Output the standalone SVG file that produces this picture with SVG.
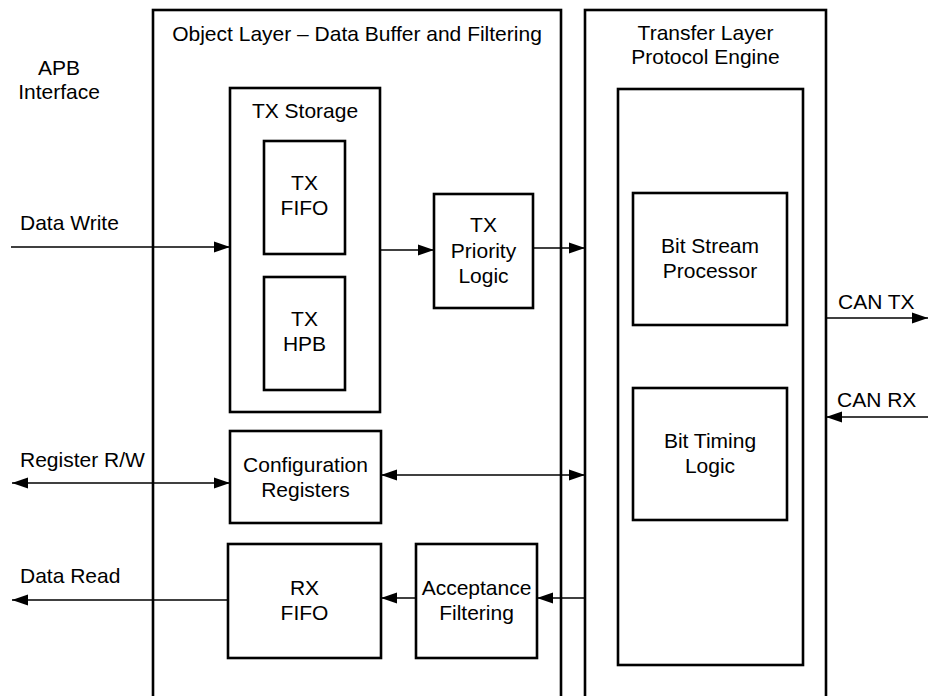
<svg xmlns="http://www.w3.org/2000/svg" width="928" height="696" viewBox="0 0 928 696">
<style>
.box{fill:none;stroke:#000;stroke-width:2.6}
.t{font-family:"Liberation Sans",Arial,sans-serif;font-size:21px;fill:#000}
.m{text-anchor:middle}
.c{fill:none;stroke:#000;stroke-width:1.3}
</style>
<defs>
<marker id="ah" markerUnits="userSpaceOnUse" markerWidth="17" markerHeight="12" refX="16" refY="6" orient="auto-start-reverse">
<path d="M0,0.5 L16,6 L0,11.5 z" fill="#000"/>
</marker>
</defs>
<rect width="928" height="696" fill="#fff"/>

<g id="apb-label">
<text class="t m" x="59" y="75">APB</text>
<text class="t m" x="59" y="99">Interface</text>
</g>

<g id="object-layer">
<rect class="box" x="153" y="10" width="408" height="720"/>
<text class="t m" x="357" y="41">Object Layer – Data Buffer and Filtering</text>
</g>

<g id="tx-storage">
<rect class="box" x="230" y="88" width="150" height="324"/>
<text class="t m" x="305" y="118">TX Storage</text>
</g>

<g id="tx-fifo">
<rect class="box" x="264" y="141" width="81" height="113"/>
<text class="t m" x="304.5" y="190">TX</text>
<text class="t m" x="304.5" y="215">FIFO</text>
</g>

<g id="tx-hpb">
<rect class="box" x="264" y="277" width="81" height="113"/>
<text class="t m" x="304.5" y="326">TX</text>
<text class="t m" x="304.5" y="351">HPB</text>
</g>

<g id="tx-priority">
<rect class="box" x="434" y="194" width="99" height="114"/>
<text class="t m" x="483.5" y="232">TX</text>
<text class="t m" x="483.5" y="258">Priority</text>
<text class="t m" x="483.5" y="283">Logic</text>
</g>

<g id="config-registers">
<rect class="box" x="230" y="431" width="151" height="92"/>
<text class="t m" x="305.5" y="472">Configuration</text>
<text class="t m" x="305.5" y="497">Registers</text>
</g>

<g id="rx-fifo">
<rect class="box" x="228" y="544" width="153" height="114"/>
<text class="t m" x="304.5" y="595">RX</text>
<text class="t m" x="304.5" y="620">FIFO</text>
</g>

<g id="acceptance-filtering">
<rect class="box" x="416" y="544" width="121" height="114"/>
<text class="t m" x="476.5" y="595">Acceptance</text>
<text class="t m" x="476.5" y="620">Filtering</text>
</g>

<g id="transfer-layer">
<rect class="box" x="585" y="10" width="241" height="720"/>
<text class="t m" x="705.5" y="40">Transfer Layer</text>
<text class="t m" x="705.5" y="64">Protocol Engine</text>
</g>

<g id="protocol-core">
<rect class="box" x="618" y="89" width="185" height="576"/>
</g>

<g id="bit-stream-processor">
<rect class="box" x="633" y="193" width="154" height="132"/>
<text class="t m" x="710" y="253">Bit Stream</text>
<text class="t m" x="710" y="278">Processor</text>
</g>

<g id="bit-timing-logic">
<rect class="box" x="633" y="388" width="154" height="132"/>
<text class="t m" x="710" y="448">Bit Timing</text>
<text class="t m" x="710" y="473">Logic</text>
</g>

<g id="connectors">
<line class="c" x1="11" y1="247" x2="230" y2="247" marker-end="url(#ah)"/>
<line class="c" x1="380" y1="250" x2="434" y2="250" marker-end="url(#ah)"/>
<line class="c" x1="533" y1="248" x2="585" y2="248" marker-end="url(#ah)"/>
<line class="c" x1="12" y1="483" x2="230" y2="483" marker-start="url(#ah)" marker-end="url(#ah)"/>
<line class="c" x1="381" y1="475" x2="585" y2="475" marker-start="url(#ah)" marker-end="url(#ah)"/>
<line class="c" x1="585" y1="598" x2="537" y2="598" marker-end="url(#ah)"/>
<line class="c" x1="416" y1="598" x2="381" y2="598" marker-end="url(#ah)"/>
<line class="c" x1="228" y1="600" x2="12" y2="600" marker-end="url(#ah)"/>
<line class="c" x1="826" y1="318" x2="928" y2="318" marker-end="url(#ah)"/>
<line class="c" x1="928" y1="417" x2="826" y2="417" marker-end="url(#ah)"/>
</g>

<g id="labels">
<text class="t" x="20" y="230">Data Write</text>
<text class="t" x="20" y="467">Register R/W</text>
<text class="t" x="20" y="583">Data Read</text>
<text class="t" x="838" y="309">CAN TX</text>
<text class="t" x="837" y="407">CAN RX</text>
</g>
</svg>
